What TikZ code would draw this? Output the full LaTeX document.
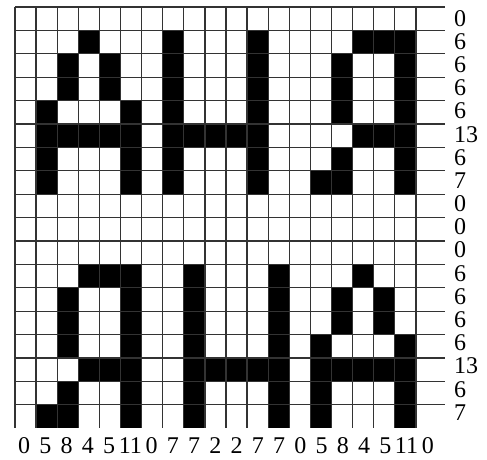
\documentclass[tikz,border=0pt]{standalone}
\usepackage{fontspec}
\setmainfont{Liberation Serif}
\tikzset{
  gridline/.style={
    line width=1.3pt,
    draw=black!80
  },
  pixel/.style={
    fill=black
  },
  rowsum/.style={
    anchor=west,
    inner sep=0pt,
    font=\fontsize{24}{24}\selectfont
  },
  colsum/.style={
    anchor=base,
    inner sep=0pt,
    font=\fontsize{24}{24}\selectfont
  }
}
\begin{document}
\begin{tikzpicture}[x=1pt,y=-1pt]
  \useasboundingbox (0,0) rectangle (487,459);
  \begin{scope}[shift={(15,7)},x=21.1pt,y=-23.4pt]
    % black cells, row by row
    \foreach \r/\cols in {1/{3,7,11,16,17,18},
                          2/{2,4,7,11,15,18},
                          3/{2,4,7,11,15,18},
                          4/{1,5,7,11,15,18},
                          5/{1,2,3,4,5,7,8,9,10,11,16,17,18},
                          6/{1,5,7,11,15,18},
                          7/{1,5,7,11,14,15,18},
                          11/{3,4,5,8,12,16},
                          12/{2,5,8,12,15,17},
                          13/{2,5,8,12,15,17},
                          14/{2,5,8,12,14,18},
                          15/{3,4,5,8,9,10,11,12,14,15,16,17,18},
                          16/{2,5,8,12,14,18},
                          17/{1,2,5,8,12,14,18}}{
        \foreach \c in \cols
          \fill[pixel] (\c,\r) rectangle ++(1,1);
      }
    % grid
    \foreach \r in {0,...,17}
      \draw[gridline] (0,\r) -- (20.38,\r);
    \foreach \c in {0,...,19}
      \draw[gridline] (\c,0) -- (\c,18);
    % sums
    \foreach \n [count=\r from 0] in {0,6,6,6,6,13,6,7,0,0,0,6,6,6,6,13,6,7}
      \node[rowsum] (row\r) at (20.8,0.48+0.991*\r) {\n};
    \foreach \n [count=\c from 0] in {0,5,8,4,5,11,0,7,7,2,2,7,7,0,5,8,4,5,11,0}
      \node[colsum] (col\c) at (0.43+1.007*\c,19.06) {\n};
  \end{scope}
\end{tikzpicture}
\end{document}
